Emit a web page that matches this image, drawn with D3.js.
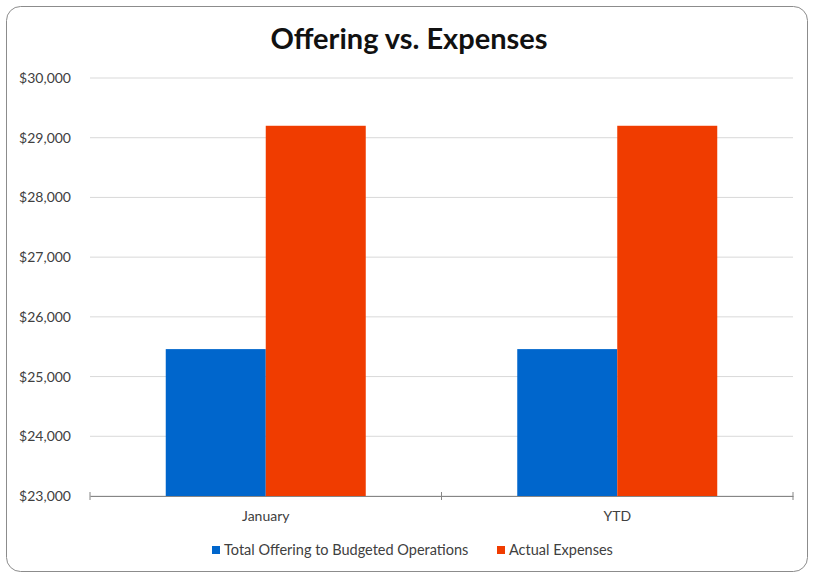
<!DOCTYPE html>
<html>
<head>
<meta charset="utf-8">
<script src="https://cdn.jsdelivr.net/npm/d3@7"></script>
<style>
  body { margin: 0; background: #fff; }
  svg { display: block; font-family: Lato, "Open Sans", sans-serif; }
</style>
</head>
<body>
<svg id="chart" width="814" height="577"></svg>
<script>
const categories = ["January", "YTD"];
const seriesNames = ["Total Offering to Budgeted Operations", "Actual Expenses"];
const offering = [25460, 25460];
const expenses = [29200, 29200];
const yTicks = [23000, 24000, 25000, 26000, 27000, 28000, 29000, 30000];
const colors = ["#0066CC", "#F03C00"];

const svg = d3.select("#chart");
const width = 814, height = 577;
const margin = { top: 78, right: 21, bottom: 81, left: 90 };
const innerW = width - margin.left - margin.right;
const innerH = height - margin.top - margin.bottom;

// rounded frame
svg.append("rect")
    .attr("x", 6.5).attr("y", 6.5)
    .attr("width", width - 13).attr("height", height - 12)
    .attr("rx", 14)
    .attr("fill", "#fff")
    .attr("stroke", "#8c8c8c")
    .attr("stroke-width", 1);

svg.append("text")
    .attr("x", width / 2 + 2).attr("y", 49)
    .attr("text-anchor", "middle")
    .attr("font-size", 29)
    .attr("font-weight", "bold")
    .attr("fill", "#111")
    .text("Offering vs. Expenses");

const g = svg.append("g").attr("transform", `translate(${margin.left},${margin.top})`);

const y = d3.scaleLinear().domain([23000, 30000]).range([innerH, 0]);
const x0 = d3.scaleBand().domain(categories).range([0, innerW]).paddingInner(0).paddingOuter(0);
const x1 = d3.scaleBand().domain(seriesNames).range([x0.bandwidth() / 2 - 100, x0.bandwidth() / 2 + 100]);

// gridlines
g.selectAll("line.grid")
    .data(yTicks)
    .enter().append("line")
    .attr("class", "grid")
    .attr("x1", 0).attr("x2", innerW)
    .attr("y1", d => y(d)).attr("y2", d => y(d))
    .attr("stroke", "#d9d9d9")
    .attr("stroke-width", 1);

// y labels
const yAxis = d3.axisLeft(y).tickValues(yTicks).tickSize(0).tickPadding(19)
    .tickFormat(d => "$" + d3.format(",")(d));
g.append("g").call(yAxis)
    .call(a => a.select(".domain").remove())
    .selectAll("text")
    .attr("font-size", 14)
    .attr("fill", "#404040")
    .attr("font-family", "Lato, sans-serif");

// bars
const data = categories.map((c, i) => ({ cat: c, vals: [offering[i], expenses[i]] }));
const groups = g.selectAll("g.cat")
    .data(data)
    .enter().append("g")
    .attr("transform", d => `translate(${x0(d.cat)},0)`);

groups.selectAll("rect")
    .data(d => d.vals.map((v, i) => ({ name: seriesNames[i], v, i })))
    .enter().append("rect")
    .attr("x", d => x1(d.name))
    .attr("width", x1.bandwidth())
    .attr("y", d => y(d.v))
    .attr("height", d => innerH - y(d.v))
    .attr("fill", d => colors[d.i]);

// x axis
const xAxis = d3.axisBottom(x0).tickSize(0).tickPadding(15);
const xg = g.append("g").attr("transform", `translate(0,${innerH})`).call(xAxis);
xg.select(".domain").attr("stroke", "#868686");
xg.selectAll("text").attr("font-size", 14).attr("fill", "#404040").attr("font-family", "Lato, sans-serif");

// category boundary ticks
const bounds = [0, innerW / 2, innerW];
g.selectAll("line.bt")
    .data(bounds)
    .enter().append("line")
    .attr("x1", d => d).attr("x2", d => d)
    .attr("y1", innerH - 4).attr("y2", innerH + 4)
    .attr("stroke", "#868686");

// legend
const legend = svg.append("g").attr("transform", "translate(0,551)");
const legendX = [212, 497];
seriesNames.forEach((name, i) => {
    const item = legend.append("g").attr("transform", `translate(${legendX[i]},0)`);
    item.append("rect").attr("x", 0).attr("y", -5).attr("width", 8).attr("height", 8).attr("fill", colors[i]);
    item.append("text").attr("x", 12).attr("y", 4)
        .attr("font-size", 14.5).attr("fill", "#404040")
        .text(name);
});
</script>
</body>
</html>
